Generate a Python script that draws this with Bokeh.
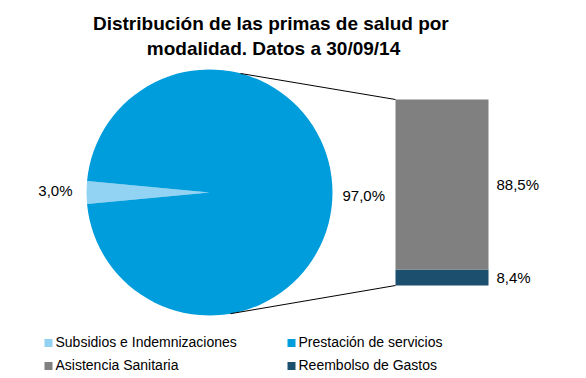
import math
from bokeh.plotting import figure
from bokeh.models import Range1d, ColumnDataSource
from bokeh.core.properties import value
from bokeh.embed import file_html
from bokeh.resources import INLINE

# ---- data ----
pie_labels = ["Subsidios e Indemnizaciones", "Prestación de servicios"]
pie_values = [3.0, 97.0]
pie_texts = ["3,0%", "97,0%"]
bar_labels = ["Reembolso de Gastos", "Asistencia Sanitaria"]  # bottom to top
bar_values = [8.4, 88.5]
bar_texts = ["8,4%", "88,5%"]
title_lines = ["Distribución  de las primas de salud por", "modalidad. Datos a 30/09/14"]

pie_colors = ["#92D2F2", "#009DDC"]
bar_colors = ["#1C4E6E", "#808080"]
FONT = "Liberation Sans"

W, H = 586, 378
p = figure(width=W, height=H, output_backend="svg", toolbar_location=None,
           x_range=Range1d(0, W), y_range=Range1d(0, H), min_border=0)
p.axis.visible = False
p.grid.visible = False
p.outline_line_color = None
p.background_fill_color = "white"
p.border_fill_color = "white"

# bar scale: an extra y-range so the bar heights come from the values
bar_bottom_px, bar_px_per_unit = 93, 186 / sum(bar_values)
p.extra_y_ranges = {"bar": Range1d(-bar_bottom_px / bar_px_per_unit,
                                   (H - bar_bottom_px) / bar_px_per_unit)}

# ---- pie ----
cx, cy, r = 209, 186, 123
total = sum(pie_values)
first_span = pie_values[0] / total * 2 * math.pi
starts, ends = [], []
a = math.pi - first_span / 2
for v in pie_values:
    s = v / total * 2 * math.pi
    starts.append(a)
    ends.append(a + s)
    a += s
pie_src = ColumnDataSource(dict(x=[cx] * 2, y=[cy] * 2, start=starts, end=ends, color=pie_colors))
p.wedge(x="x", y="y", radius=r, start_angle="start", end_angle="end",
        fill_color="color", line_color=None, source=pie_src)

# ---- bar ----
bar_x, bar_w = 441.5, 93
bottoms, tops = [], []
acc = 0
for v in bar_values:
    bottoms.append(acc)
    acc += v
    tops.append(acc)
bar_src = ColumnDataSource(dict(x=[bar_x] * 2, bottom=bottoms, top=tops, color=bar_colors))
p.vbar(x="x", bottom="bottom", top="top", width=bar_w, fill_color="color",
       line_color=None, source=bar_src, y_range_name="bar")

# ---- connector lines ----
bar_left = bar_x - bar_w / 2
top_px = bar_bottom_px + acc * bar_px_per_unit
a1, a2 = math.radians(75.4), math.radians(-80.2)
p.segment(x0=[cx + r * math.cos(a1), cx + r * math.cos(a2)],
          y0=[cy + r * math.sin(a1), cy + r * math.sin(a2)],
          x1=[bar_left, bar_left], y1=[top_px, bar_bottom_px],
          line_color="#000000", line_width=1)

# ---- data labels ----
p.text(x=[72], y=[188], text=[pie_texts[0]], text_align="right", text_baseline="alphabetic",
       text_font=value(FONT), text_font_size="15px", text_color="#000000")
p.text(x=[342], y=[183], text=[pie_texts[1]], text_align="left", text_baseline="alphabetic",
       text_font=value(FONT), text_font_size="15px", text_color="#000000")
p.text(x=[496, 496], y=[101, 194], text=bar_texts, text_align="left", text_baseline="alphabetic",
       text_font=value(FONT), text_font_size="15px", text_color="#000000")

# ---- title ----
p.text(x=[273, 273], y=[355, 330], text=title_lines, text_align="center",
       text_baseline="alphabetic", text_font=value(FONT), text_font_size="19px",
       text_font_style="bold", text_color="#000000")

# ---- legend ----
leg_names = [pie_labels[0], pie_labels[1], bar_labels[1], bar_labels[0]]
leg_colors = [pie_colors[0], pie_colors[1], bar_colors[1], bar_colors[0]]
mx = [48, 291, 48, 291]
my = [35.5, 35.5, 12.5, 12.5]
p.rect(x=mx, y=my, width=8, height=8, fill_color=leg_colors, line_color=None)
p.text(x=[m + 7 for m in mx], y=[37, 37, 14, 14], text=leg_names, text_align="left",
       text_baseline="alphabetic", text_font=value(FONT), text_font_size="14px",
       text_color="#000000")

open("out.html", "w").write(file_html(p, INLINE))
